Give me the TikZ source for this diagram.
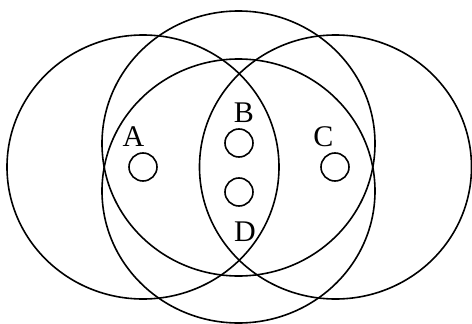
\documentclass[tikz,border=0pt]{standalone}
\usepackage{fontspec}
\setmainfont{Liberation Serif}
\begin{document}
\begin{tikzpicture}[
		x=1pt, y=-1pt,
		ring/.style={draw, line width=1.6pt},
		dot/.style={draw, circle, line width=1.6pt, minimum size=28pt, inner sep=0pt},
		tag/.style={anchor=base, inner sep=0pt, font=\fontsize{30}{32}\selectfont}
		]
		\useasboundingbox (0,0) rectangle (472,324);
		
		% the four large ellipses
		\draw[ring] (143,167) ellipse [x radius=136, y radius=132];
		\draw[ring] (335.5,167) ellipse [x radius=136, y radius=132];
		\draw[ring] (238.5,143.5) ellipse [x radius=136.5, y radius=132.5];
		\draw[ring] (238.5,191) ellipse [x radius=136.5, y radius=132];
		
		% small circles
		\node[dot] (dotA) at (143,167) {};
		\node[dot] (dotB) at (239,143) {};
		\node[dot] (dotD) at (239,192) {};
		\node[dot] (dotC) at (335,167) {};
		
		% labels
		\node[tag] (labA) at (133.5,146) {A};
		\node[tag] (labB) at (244,122.3) {B};
		\node[tag] (labC) at (323.5,146.5) {C};
		\node[tag] (labD) at (245,241) {D};
	\end{tikzpicture}
\end{document}
